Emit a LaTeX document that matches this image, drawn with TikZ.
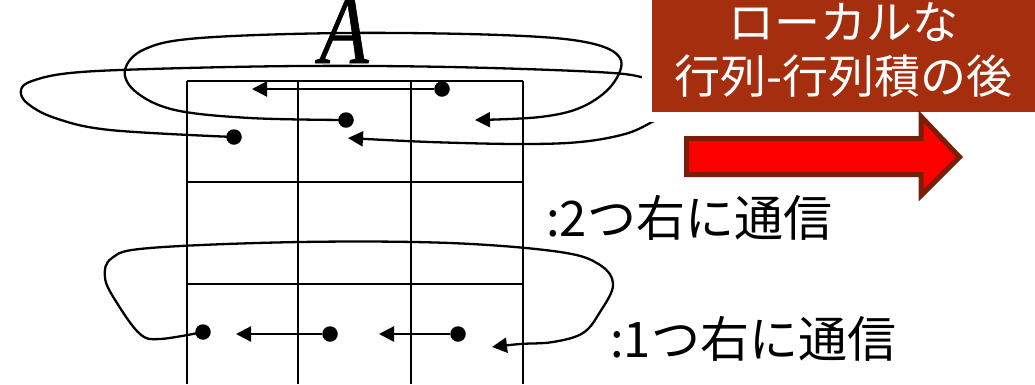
\documentclass[tikz,border=0pt]{standalone}
\usepackage{fontspec}
\setmainfont{Liberation Serif}
\newfontfamily\timesfont{Liberation Serif}[ItalicFeatures={FakeBold=0.8}]
\newfontfamily\jp{Noto Sans CJK JP}
\usetikzlibrary{arrows.meta}
\definecolor{boxbrown}{RGB}{164,46,14}
\definecolor{arrowborder}{RGB}{122,30,10}
\begin{document}
\begin{tikzpicture}[x=1pt,y=-1pt,
  gridline/.style={line width=1.8pt},
  conn/.style={line width=2.3pt,-{Triangle[length=15pt,width=15pt]}},
  loopconn/.style={conn,smooth,tension=0.6},
  dot/.style={circle,fill=black,inner sep=0pt,minimum size=15.5pt},
  lbl/.style={font=\jp\fontsize{49}{52}\selectfont,anchor=west,inner sep=0pt},
]
\useasboundingbox (0,0) rectangle (1035,384);
% matrix grid
\draw[gridline] (187,81) -- (523,81) (187,182) -- (523,182) (187,284) -- (523,284);
\foreach \x in {187,298,411,523} \draw[gridline] (\x,81) -- (\x,384);
% matrix name
\node[font=\timesfont\itshape\fontsize{100}{100}\selectfont,anchor=base,inner sep=0pt] (A) at (344,63) {\scalebox{0.8}[1]{A}};
% dots
\node[dot] (d1) at (442,89) {};
\node[dot] (d2) at (346,120) {};
\node[dot] (d3) at (234,137) {};
\node[dot] (d7) at (203,332) {};
\node[dot] (d8) at (330,334) {};
\node[dot] (d9) at (458,334) {};
% arrow tips
\coordinate (t1) at (252,89);
\coordinate (t2) at (475,120);
\coordinate (t3) at (348,138);
\coordinate (t7) at (492,347);
\coordinate (t8) at (236,334);
\coordinate (t9) at (379,334);
% straight arrows
\draw[conn] (d1) -- (t1);
\draw[conn] (d8) -- (t8);
\draw[conn] (d9) -- (t9);
% loops
\draw[loopconn] plot coordinates {(d2) (250,118) (175,110) (136,92) (125,70) (145,49) (200,38) (345,33) (500,35) (585,42) (620,58) (612,85) (582,107) (540,117) (t2)};
\draw[loopconn] plot coordinates {(d3) (110,130) (55,118) (27,103) (21,90) (32,81) (70,73) (150,69) (300,66) (450,67) (597,72) (645,78) (670,90) (670,110) (652,122) (625,134) (580,142) (520,144) (430,142) (t3)};
\draw[loopconn] plot coordinates {(d7) (160,339) (140,334) (117,303) (105,278) (112,258) (150,248) (300,242) (450,243) (560,252) (600,265) (613,285) (600,312) (583,333) (553,342) (520,344) (t7)};
% labels
\node[lbl] (l2) at (546,218) {:2つ右に通信};
\node[lbl] (l1) at (610,339) {:1つ右に通信};
% mask and box
\fill[white] (642,0) rectangle (1035,122);
\node[fill=boxbrown,minimum width=383pt,minimum height=112pt,inner sep=0pt,text=white,font=\jp\fontsize{46}{52}\selectfont] (box) at (843.5,56)
  {\raisebox{10pt}{\begin{tabular}{@{}c@{}}ローカルな\\行列-行列積の後\end{tabular}}};
% big red arrow
\draw[line width=5pt,draw=arrowborder,fill=red,line join=miter]
  (686.5,138.5) -- (921,138.5) -- (921,116.5) -- (959.5,157) -- (921,195.5) -- (921,174.5) -- (686.5,174.5) -- cycle;
\end{tikzpicture}
\end{document}
